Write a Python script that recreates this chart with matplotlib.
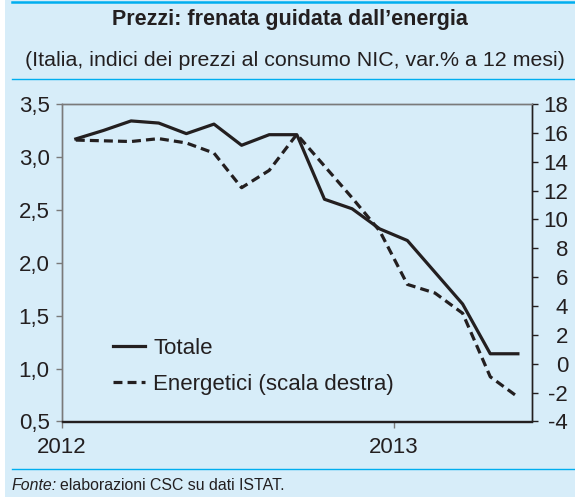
import matplotlib
matplotlib.use("Agg")
import matplotlib.pyplot as plt
from matplotlib.lines import Line2D
from matplotlib.patches import Rectangle
import matplotlib.ticker as mticker
import matplotlib.transforms as mtrans

# mesi da gennaio 2012 a maggio 2013 (punti a meta' mese)
mesi = [i + 0.5 for i in range(17)]
totale = [3.17, 3.25, 3.34, 3.32, 3.22, 3.31, 3.11, 3.21, 3.21,
          2.60, 2.51, 2.32, 2.21, 1.91, 1.61, 1.14, 1.14]
energetici = [15.5, 15.45, 15.4, 15.6, 15.3, 14.6, 12.2, 13.4, 15.9,
              13.7, 11.5, 9.2, 5.5, 4.9, 3.5, -0.9, -2.3]
anni = ["2012", "2013"]
anni_pos = [0, 12]
sx_ticks = [0.5, 1.0, 1.5, 2.0, 2.5, 3.0, 3.5]
dx_ticks = [-4, -2, 0, 2, 4, 6, 8, 10, 12, 14, 16, 18]

bg = "#d7edf9"
azzurro = "#00aeef"
nero = "#231f20"
grigio = "#7a7a7a"

plt.rcParams["font.family"] = ["Liberation Sans", "DejaVu Sans"]
plt.rcParams["axes.unicode_minus"] = False

W, H = 575, 497
fig = plt.figure(figsize=(W / 100, H / 100), dpi=100, facecolor=bg)
renderer = fig.canvas.get_renderer()


def larghezza(t):
    return t.get_window_extent(renderer).width


def fit(t, target_px):
    # adatta la dimensione del font alla larghezza voluta
    t.set_fontsize(t.get_fontsize() * target_px / larghezza(t))


# margine bianco a sinistra e linee azzurre
fig.add_artist(Rectangle((0, 0), 5 / W, 1, transform=fig.transFigure,
                         facecolor="white", edgecolor="none"))
fig.add_artist(Line2D([12 / W, 1], [1 - 2.2 / H] * 2, color=azzurro, lw=1.8))
fig.add_artist(Line2D([12 / W, 1], [1 - 79.3 / H] * 2, color=azzurro, lw=1.0))
fig.add_artist(Line2D([12 / W, 1], [1 - 469.3 / H] * 2, color=azzurro, lw=1.0))

tit = fig.text(289.5 / W, 1 - 20 / H, "Prezzi: frenata guidata dall\u2019energia",
               ha="center", va="center", fontsize=14, fontweight="bold",
               color=nero)
fit(tit, 356)
sub = fig.text(295 / W, 1 - 61 / H,
               "(Italia, indici dei prezzi al consumo NIC, var.% a 12 mesi)",
               ha="center", va="center", fontsize=14, color=nero)
fit(sub, 542)

# fonte: stessa dimensione per le due parti, larghezza totale come nel grafico
f1 = fig.text(12 / W, 1 - 486 / H, "Fonte:", ha="left", va="center",
              fontsize=11, style="italic", color=nero)
f2 = fig.text(0, 1 - 486 / H, "elaborazioni CSC su dati ISTAT.",
              ha="left", va="center", fontsize=11, color=nero)
tot = larghezza(f1) + larghezza(f2) + 3
s = 11 * 271 / tot
f1.set_fontsize(s)
f2.set_fontsize(s)
f2.set_x((12 + larghezza(f1) + 3) / W)

left, right = 62 / W, 531.7 / W
top, bottom = 1 - 104 / H, 1 - 421.5 / H
ax = fig.add_axes([left, bottom, right - left, top - bottom])
ax.set_facecolor("none")
ax2 = ax.twinx()

l1, = ax.plot(mesi, totale, color=nero, lw=2.3, label="Totale")
l2, = ax2.plot(mesi, energetici, color=nero, lw=2.3, dashes=(2.8, 1.6),
               label="Energetici (scala destra)")

ax.set_xlim(0, 17)
ax.set_ylim(0.5, 3.5)
ax2.set_ylim(-4, 18)

ax.set_yticks(sx_ticks)
ax.yaxis.set_major_formatter(mticker.FuncFormatter(
    lambda v, p: f"{v:.1f}".replace(".", ",")))
ax2.set_yticks(dx_ticks)
ax2.yaxis.set_major_formatter(mticker.FuncFormatter(lambda v, p: f"{v:.0f}"))

ax.set_xticks(anni_pos)
ax.set_xticklabels(anni)
for lab in ax.get_xticklabels():
    lab.set_transform(lab.get_transform() +
                      mtrans.ScaledTranslation(8 / 100, 0, fig.dpi_scale_trans))

ax.tick_params(axis="y", direction="out", length=4, width=1, color=grigio,
               labelsize=16, pad=5, labelcolor=nero)
ax.tick_params(axis="x", direction="out", length=4, width=1, color=grigio,
               labelsize=16, pad=7, labelcolor=nero)
ax2.tick_params(axis="y", direction="out", length=4, width=1, color=nero,
                labelsize=16, pad=22.3, labelcolor=nero)
for lab in ax2.get_yticklabels():
    lab.set_horizontalalignment("right")

for a in (ax, ax2):
    a.spines["top"].set_color(grigio)
    a.spines["left"].set_color(grigio)
    a.spines["bottom"].set_color(nero)
    a.spines["right"].set_color(nero)
    for sp in a.spines.values():
        sp.set_linewidth(1.0)

leg = ax2.legend(handles=[l1, l2], loc="upper left",
                 bbox_to_anchor=(0.108, 0.264), frameon=False, fontsize=16,
                 handlelength=1.45, handletextpad=0.37, labelspacing=0.7,
                 borderpad=0, borderaxespad=0)
for t in leg.get_texts():
    t.set_color(nero)

fig.savefig("out.png", dpi=100, facecolor=bg)
